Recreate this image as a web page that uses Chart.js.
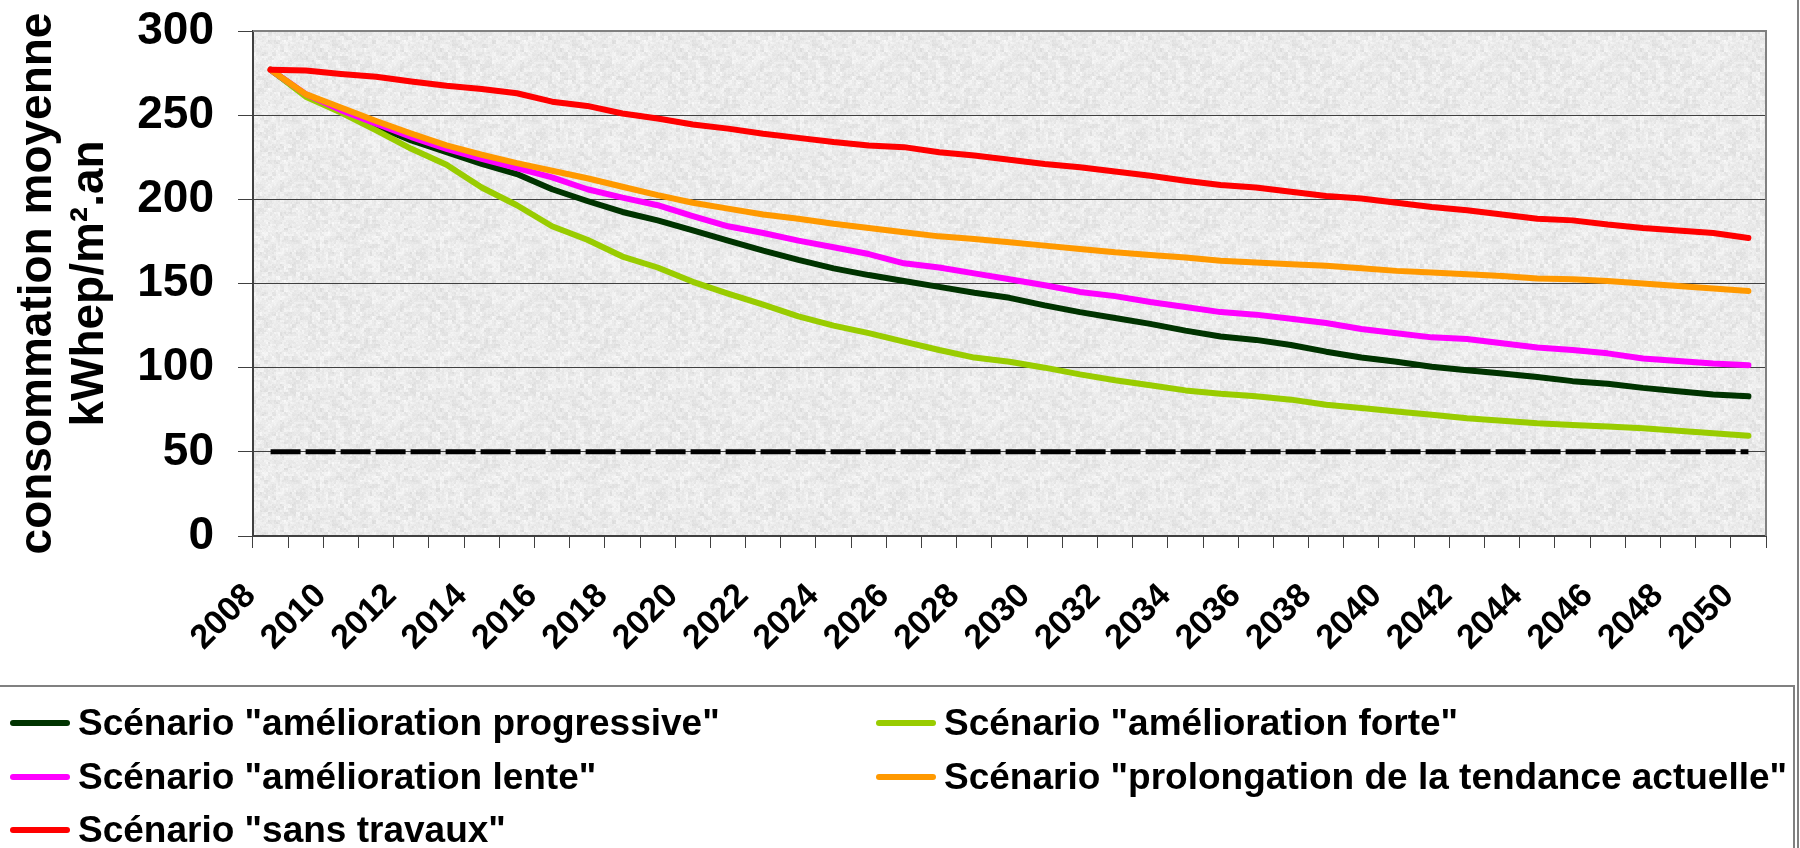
<!DOCTYPE html>
<html>
<head>
<meta charset="utf-8">
<script src="https://cdn.jsdelivr.net/npm/chart.js@4.4.1/dist/chart.umd.min.js"></script>
<style>
  html, body { margin: 0; padding: 0; background: #fff; }
  #wrap { position: relative; width: 1800px; height: 848px; overflow: hidden; }
  #chart { position: absolute; left: 0; top: 0; }
  #edge { position: absolute; left: 1797px; top: 0; width: 2px; height: 848px; background: #808080; }
  #legend { position: absolute; left: -2px; top: 685px; width: 1797px; height: 190px; box-sizing: border-box;
            border: 2px solid #808080; font: bold 37px "Liberation Sans", Arial, sans-serif; color: #000; }
  .item { position: absolute; height: 40px; display: flex; align-items: center; white-space: nowrap; }
  .swatch { width: 60px; height: 6px; border-radius: 3px; margin-right: 8px; }
</style>
</head>
<body>
<div id="wrap">
  <canvas id="chart" width="1800" height="686"></canvas>
  <div id="legend"></div>
  <div id="edge"></div>
</div>
<script>
/* =========================================================
   1. Data
========================================================= */
const years = ['2008','2009','2010','2011','2012','2013','2014','2015','2016','2017',
               '2018','2019','2020','2021','2022','2023','2024','2025','2026','2027',
               '2028','2029','2030','2031','2032','2033','2034','2035','2036','2037',
               '2038','2039','2040','2041','2042','2043','2044','2045','2046','2047',
               '2048','2049','2050'];

const progressive = [277,262,252.5,243.5,235,228,221,215,206,199,
                     192.5,187.5,181.5,175.5,169.5,164,159,155,151.5,148,
                     144.5,141.5,137,133,129.5,126,122,118.5,116.5,113.5,
                     109.5,106,103.5,100.5,98.5,96.5,94.5,92,90.5,88,
                     86,84,83];
const forte       = [277,261,251.5,241,230,220.5,207,196.5,184,176,
                     166,159.5,151,144,137.5,130.5,125,120.5,115.5,110.5,
                     106,103.5,100,96,92.5,89.5,86.5,84.5,83,81,
                     78,76,74,72,70,68.5,67,66,65,64,
                     62.5,61,59.5];
const lente       = [277,262.5,253,245,237,230,224,218.5,213,206,
                     201,196.5,190,184,180,175.5,171.5,167.5,162,159.5,
                     156,152.5,149,145,142.5,139,136,133,131.5,129,
                     126.5,123,120.5,118,117,114.5,112,110.5,108.5,105.5,
                     104,102.5,101.5];
const tendance    = [277,262.5,254.5,246.5,239,232,226.5,221.5,217,212.5,
                     207.5,202.5,198,194.5,191,188.5,185.5,183,180.5,178,
                     176.5,174.5,172.5,170.5,168.5,167,165.5,163.5,162.5,161.5,
                     160.5,159,157.5,156.5,155.5,154.5,153,152.5,151.5,150,
                     148.5,147,145.5];
const sansTravaux = [277,276.5,274.5,272.8,270,267.5,265.5,263,258,255.5,
                     251,248,244.5,242,239,236.5,234,232,231,228,
                     226,223.5,221,219,216.5,214,211,208.5,207,204.5,
                     202,200.5,198,195.5,193.5,191,188.5,187.5,185,183,
                     181.5,180,177];
const objectif    = [50,50,50,50,50,50,50,50,50,50,
                     50,50,50,50,50,50,50,50,50,50,
                     50,50,50,50,50,50,50,50,50,50,
                     50,50,50,50,50,50,50,50,50,50,
                     50,50,50];

const yTicks = [0, 50, 100, 150, 200, 250, 300];

const series = [
  { name: 'Scénario "amélioration progressive"',             data: progressive, color: '#003300' },
  { name: 'Scénario "amélioration forte"',                   data: forte,       color: '#99cc00' },
  { name: 'Scénario "amélioration lente"',                   data: lente,       color: '#ff00ff' },
  { name: 'Scénario "prolongation de la tendance actuelle"', data: tendance,    color: '#ff9900' },
  { name: 'Scénario "sans travaux"',                         data: sansTravaux, color: '#ff0000' }
];

/* =========================================================
   2. Plot background (granite-like grain, deterministic)
========================================================= */
const grain = (x, y) => {
  let h = Math.imul(x, 374761393) + Math.imul(y, 668265263) | 0;
  h = Math.imul(h ^ (h >>> 13), 1274126177);
  return ((h ^ (h >>> 16)) >>> 0) / 4294967296;
};
const texture = document.createElement('canvas');
texture.width = texture.height = 120;
{
  const t = texture.getContext('2d');
  const img = t.createImageData(120, 120);
  for (let y = 0; y < 120; y++) for (let x = 0; x < 120; x++) {
    const g = grain(x >> 2, y >> 2) * 0.45 + grain(x >> 1, y >> 1) * 0.35 + grain(x, y) * 0.2;
    const v = Math.round(251 - g * 34);
    const k = (y * 120 + x) * 4;
    img.data[k] = img.data[k + 1] = img.data[k + 2] = v;
    img.data[k + 3] = 255;
  }
  t.putImageData(img, 0, 0);
}

const plotFrame = {
  id: 'plotFrame',
  beforeDraw(chart) {
    const { ctx, chartArea: a } = chart;
    ctx.save();
    ctx.fillStyle = ctx.createPattern(texture, 'repeat');
    ctx.fillRect(a.left, a.top, a.width, a.height);
    ctx.restore();
  },
  beforeDatasetsDraw(chart) {
    const { ctx, chartArea: a } = chart;
    ctx.save();
    ctx.strokeStyle = '#808080';
    ctx.lineWidth = 2;
    ctx.beginPath();
    ctx.moveTo(a.left, a.top);
    ctx.lineTo(a.right, a.top);
    ctx.lineTo(a.right, a.bottom);
    ctx.stroke();
    ctx.restore();
  }
};

/* =========================================================
   3. Chart
========================================================= */
Chart.defaults.font.family = '"Liberation Sans", Arial, sans-serif';
Chart.defaults.color = '#000';

const datasets = series.map((s, i) => ({
  label: s.name,
  data: s.data,
  borderColor: s.color,
  backgroundColor: s.color,
  borderWidth: 6,
  borderCapStyle: 'round',
  borderJoinStyle: 'round',
  pointRadius: 0,
  tension: 0,
  order: series.length - i
}));
datasets.push({
  label: 'objectif',
  data: objectif,
  borderColor: '#000',
  borderWidth: 5,
  borderDash: [30, 5],
  pointRadius: 0,
  order: 10
});

new Chart(document.getElementById('chart'), {
  type: 'line',
  data: { labels: years, datasets },
  options: {
    responsive: false,
    animation: false,
    devicePixelRatio: 1,
    layout: { padding: { left: 0, top: 31, right: 34, bottom: 0 } },
    plugins: { legend: { display: false }, tooltip: { enabled: false } },
    scales: {
      x: {
        type: 'category',
        offset: true,
        grid: { offset: true, drawOnChartArea: false, tickLength: 12, color: '#404040', lineWidth: 1 },
        border: { display: true, color: '#404040', width: 2 },
        ticks: {
          autoSkip: false, minRotation: 45, maxRotation: 45, padding: 28, labelOffset: -20,
          font: { size: 34, weight: 'bold' },
          callback(v, i) { return i % 2 === 0 ? this.getLabelForValue(v) : ''; }
        },
        afterFit(axis) { axis.height = 150; axis.paddingLeft = 0; axis.paddingRight = 0; }
      },
      y: {
        min: 0, max: 300,
        afterBuildTicks(axis) { axis.ticks = yTicks.map(v => ({ value: v })); },
        grid: { color: '#404040', lineWidth: 1, tickLength: 15 },
        border: { display: true, color: '#404040', width: 2 },
        ticks: { padding: 24, font: { size: 46, weight: 'bold' } },
        title: {
          display: true,
          text: ['consommation moyenne', 'kWhep/m².an'],
          font: { size: 46, weight: 'bold', lineHeight: 1.13 },
          padding: { top: 12, bottom: 0 }
        },
        afterFit(axis) { axis.width = 253; axis.paddingTop = 0; axis.paddingBottom = 0; }
      }
    }
  },
  plugins: [plotFrame]
});

/* ---- legend (two columns, like the original) ---- */
const legendSlots = [[10, 16], [876, 16], [10, 70], [876, 70], [10, 123]];
document.getElementById('legend').innerHTML = series.map((s, i) =>
  `<div class="item" style="left:${legendSlots[i][0]}px;top:${legendSlots[i][1]}px">` +
  `<span class="swatch" style="background:${s.color}"></span>${s.name}</div>`).join('');
</script>
</body>
</html>
